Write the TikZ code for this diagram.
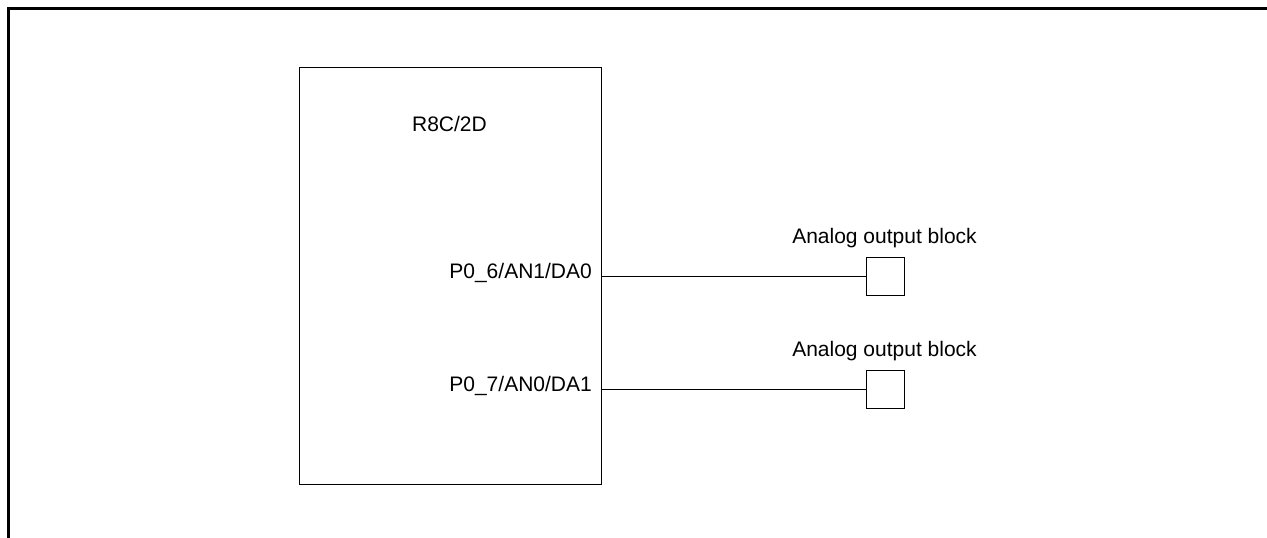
\documentclass[tikz,border=0pt]{standalone}
\usepackage{fontspec}
\setmainfont{Liberation Sans}
\begin{document}
\begin{tikzpicture}[x=1pt,y=-1pt,
  every node/.style={font=\fontsize{21}{25}\selectfont, inner sep=0pt},
  chip/.style={draw, line width=1.3pt, minimum width=302pt, minimum height=417pt, anchor=north west},
  aoblock/.style={draw, line width=1.3pt, minimum width=38pt, minimum height=38pt, anchor=north west},
  pinlabel/.style={anchor=base east},
  blocklabel/.style={anchor=base},
  wire/.style={line width=1.3pt},
  frame/.style={line width=3.3pt, line cap=rect}]
\useasboundingbox (0,0) rectangle (1267,538);
% outer frame
\coordinate (fbl) at (8.3,545);
\coordinate (ftl) at (8.3,8.3);
\coordinate (ftr) at (1275,8.3);
\draw[frame] (fbl) -- (ftl) -- (ftr);
% MCU
\node[chip] (mcu) at (299,67) {};
\node[anchor=base] (name) at (449.5,131) {R8C/2D};
\node[pinlabel] (p6) at (592,278.3) {P0\_6/AN1/DA0};
\node[pinlabel] (p7) at (592,391.3) {P0\_7/AN0/DA1};
% analog output blocks
\node[aoblock] (ao1) at (866,256.7) {};
\node[aoblock] (ao2) at (866,369.7) {};
\node[blocklabel] (l1) at (884.5,243.8) {Analog output block};
\node[blocklabel] (l2) at (884.5,356.8) {Analog output block};
% wires
\draw[wire] (ao1.west -| mcu.east) -- (ao1.west);
\draw[wire] (ao2.west -| mcu.east) -- (ao2.west);
\end{tikzpicture}
\end{document}
